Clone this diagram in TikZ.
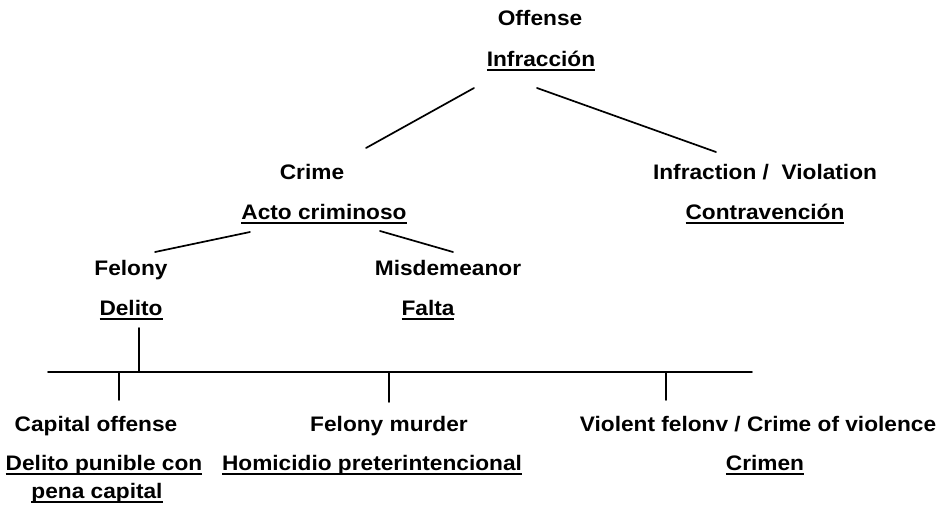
\documentclass[tikz,border=0pt]{standalone}
\usepackage{fontspec}
\setmainfont{Liberation Sans}[UprightFont=* Bold, FakeStretch=1.08]
\newcommand{\myul}[1]{\setbox0\hbox{#1}\rlap{\rule[-4.5pt]{\wd0}{2pt}}\box0}
\tikzset{
  lbl/.style={anchor=base, inner sep=0pt, font=\fontsize{21}{25}\selectfont},
  conn/.style={line width=1.7pt, line cap=round}
}
\begin{document}
\begin{tikzpicture}[x=1pt,y=-1pt]
\useasboundingbox (0,0) rectangle (944,505);
% nodes
\node[lbl] (off)  at (540,26)  {Offense};
\node[lbl] (inf)  at (541,67)  {\myul{Infracción}};
\node[lbl] (crime) at (312,179) {Crime};
\node[lbl] (acto) at (324,219) {\myul{Acto criminoso}};
\node[lbl] (viol) at (765,179) {Infraction /\ \ Violation};
\node[lbl] (contra) at (765,219) {\myul{Contravención}};
\node[lbl] (fel) at (131,275) {Felony};
\node[lbl] (delito) at (131,315) {\myul{Delito}};
\node[lbl] (misd) at (448,275) {Misdemeanor};
\node[lbl] (falta) at (428,315) {\myul{Falta}};
\node[lbl] (cap) at (96,431) {Capital offense};
\node[lbl] (dpc) at (104,470) {\myul{Delito punible con}};
\node[lbl] (pena) at (97,498) {\myul{pena capital}};
\node[lbl] (fm) at (389,431) {Felony murder};
\node[lbl] (hom) at (372,470) {\myul{Homicidio preterintencional}};
\node[lbl] (vf) at (758,431) {Violent felonv / Crime of violence};
\node[lbl] (crimen) at (765,470) {\myul{Crimen}};
% connector ends
\coordinate (i1) at (474,88);  \coordinate (c1) at (366,148);
\coordinate (i2) at (537,88);  \coordinate (v1) at (716,152);
\coordinate (a1) at (250,232); \coordinate (f1) at (155,252);
\coordinate (a2) at (380,231); \coordinate (m1) at (453,252);
\coordinate (d1) at (139,328); \coordinate (d2) at (139,372);
\coordinate (barL) at (48,372); \coordinate (barR) at (752,372);
\coordinate (b1) at (119,372); \coordinate (b1e) at (119,400);
\coordinate (b2) at (389,372); \coordinate (b2e) at (389,402);
\coordinate (b3) at (666,372); \coordinate (b3e) at (666,400);
% connectors
\draw[conn] (i1) -- (c1);
\draw[conn] (i2) -- (v1);
\draw[conn] (a1) -- (f1);
\draw[conn] (a2) -- (m1);
\draw[conn] (d1) -- (d2);
\draw[conn] (barL) -- (barR);
\draw[conn] (b1) -- (b1e);
\draw[conn] (b2) -- (b2e);
\draw[conn] (b3) -- (b3e);
\end{tikzpicture}
\end{document}
